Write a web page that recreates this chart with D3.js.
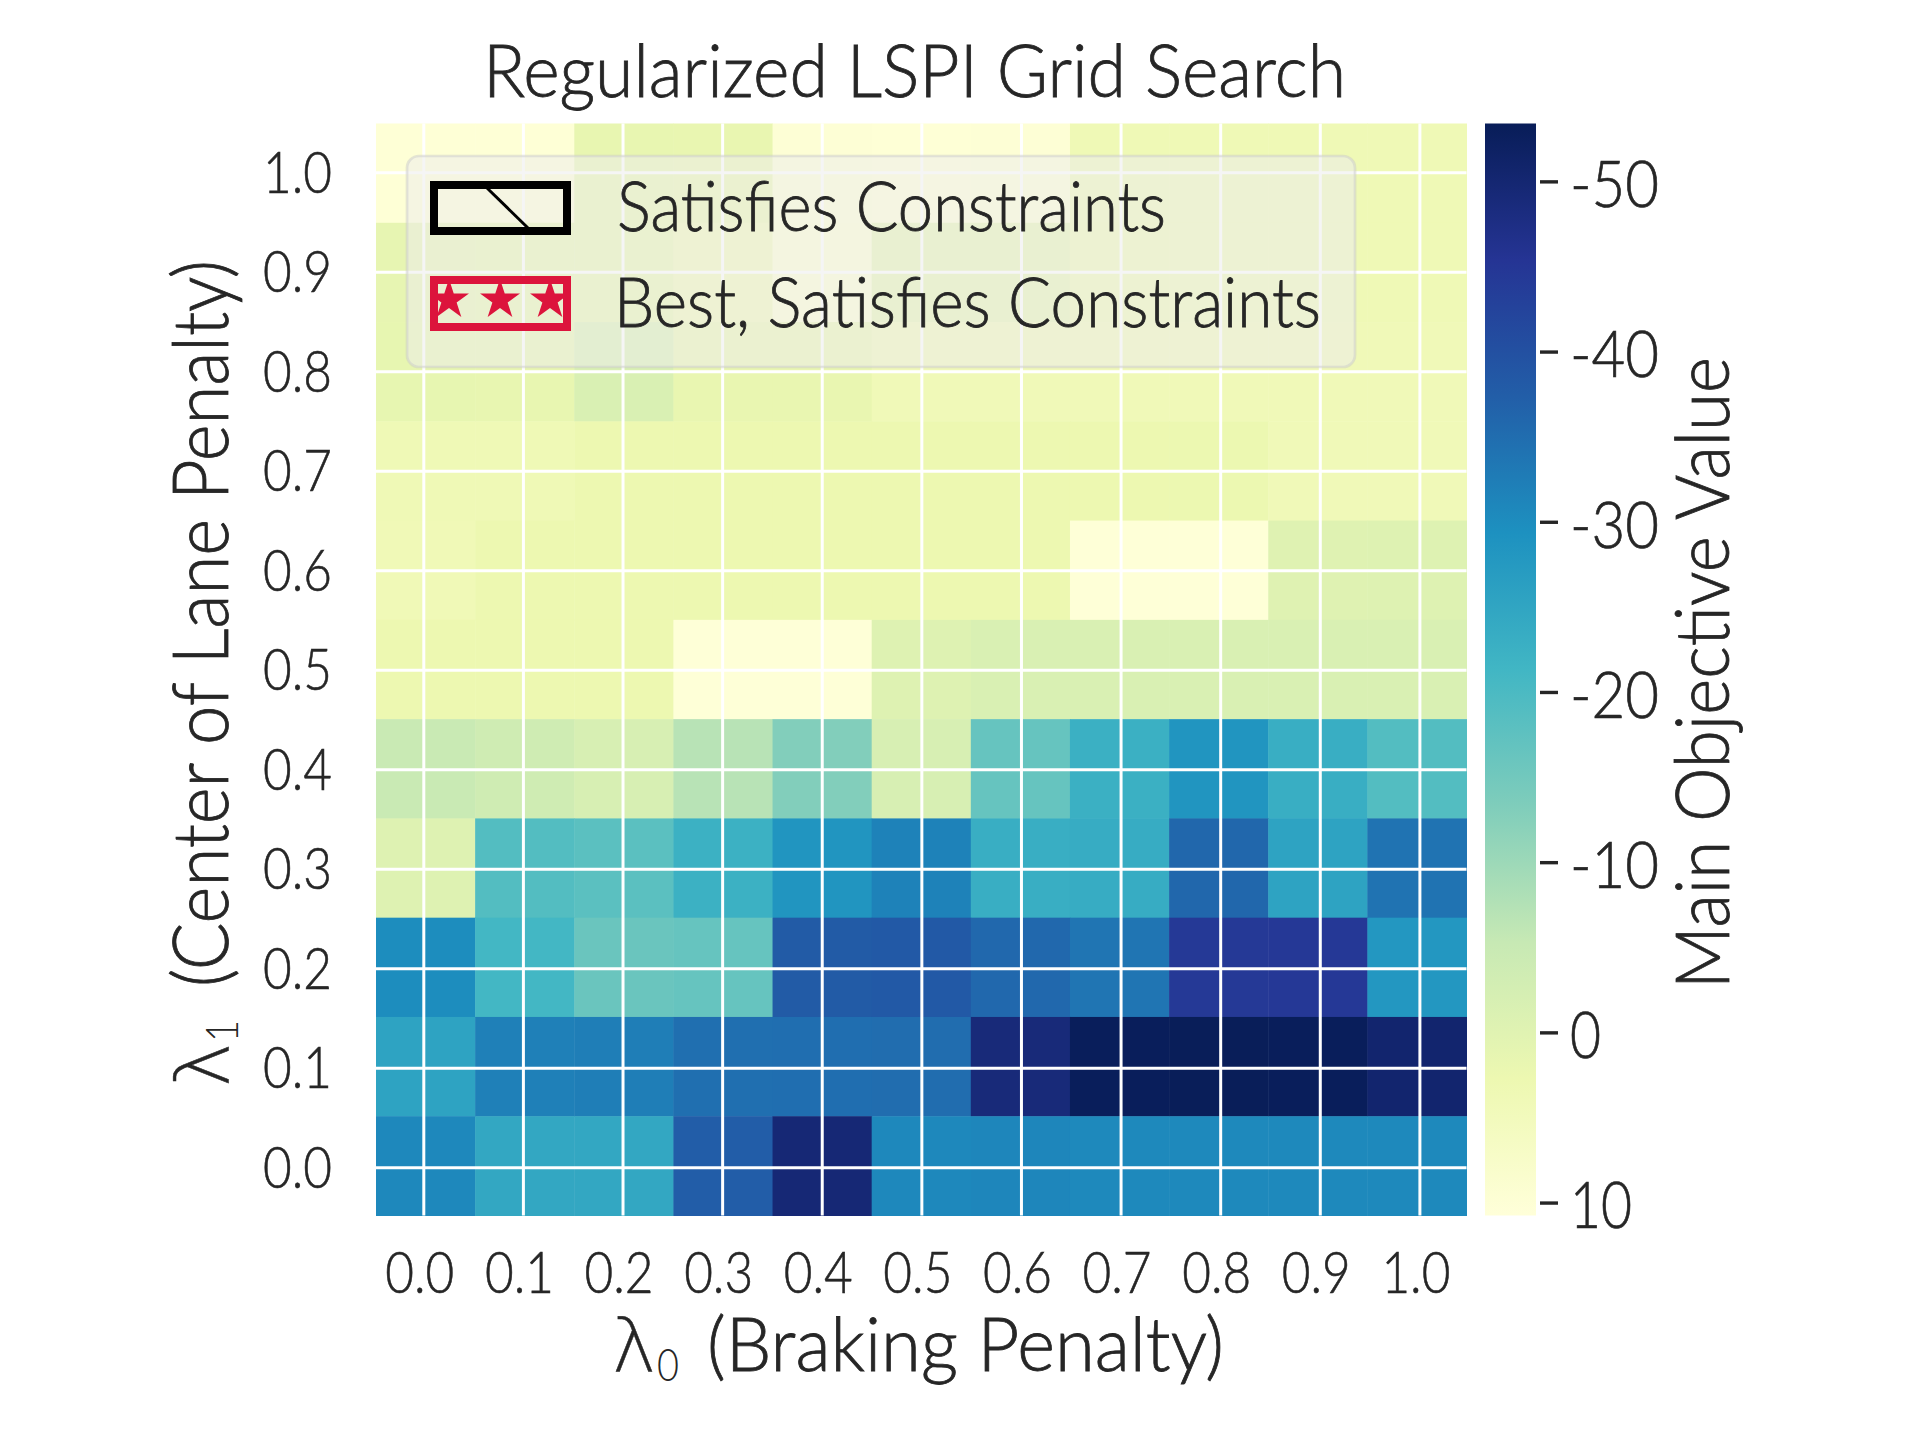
<!DOCTYPE html>
<html>
<head>
<meta charset="utf-8">
<script src="https://cdn.jsdelivr.net/npm/d3@7"></script>
<style>
  body { margin: 0; background: #fff; }
  text { font-family: "Lato", "Liberation Sans", sans-serif; font-weight: 300; fill: #262626; }
</style>
</head>
<body>
<div id="chart"></div>
<script>
// tick labels
const lambda0Ticks = [0.0, 0.1, 0.2, 0.3, 0.4, 0.5, 0.6, 0.7, 0.8, 0.9, 1.0];
const lambda1Ticks = [1.0, 0.9, 0.8, 0.7, 0.6, 0.5, 0.4, 0.3, 0.2, 0.1, 0.0];
const colorbarTicks = [-50, -40, -30, -20, -10, 0, 10];

// main objective value per row (lambda0 = 0.0 .. 1.0)
const row10 = [10.2, 10.2, 1.6, 1.8, 10, 10.2, 10, 3.8, 3.8, 3.8, 3.8];
const row09 = [1.4, 1.5, 1.5, 4, 9.5, 1.2, 1.2, 3.4, 3.8, 3.8, 3.8];
const row08 = [1.5, 1.6, -1.5, 1.8, 1.8, 4.2, 4.2, 4.2, 4.2, 4.2, 4.2];
const row07 = [3.8, 3.8, 2.7, 2.7, 2.7, 2.7, 2.7, 2.7, 2.5, 4.2, 4.2];
const row06 = [4, 2.7, 2.7, 2.7, 2.7, 2.7, 2.7, 10.3, 10.3, -0.3, -0.4];
const row05 = [2.7, 2.7, 2.7, 10.4, 10.4, -0.5, -1.5, -1.5, -1.5, -1.5, -1.5];
const row04 = [-4.8, -3.5, -2, -7, -13, -2, -16.5, -22.7, -28.5, -23, -19];
const row03 = [-0.5, -19, -18, -22.5, -28.5, -31.7, -23, -23.5, -36, -25.5, -34];
const row02 = [-30, -21, -16, -16.5, -38, -38.3, -35.8, -33.8, -44.5, -44.7, -28];
const row01 = [-25.5, -32, -32.3, -34.7, -34.8, -35, -49, -53, -53.2, -53, -50.5];
const row00 = [-30.8, -24.5, -24.5, -37.5, -49.5, -30.8, -31, -30.6, -30.6, -30.6, -30.6];
const rows = [row10, row09, row08, row07, row06, row05, row04, row03, row02, row01, row00];

// YlGnBu stops, light to dark
const ylGnBu = ["#ffffd9", "#edf8b1", "#c7e9b4", "#7fcdbb", "#41b6c4", "#1d91c0", "#225ea8", "#253494", "#081d58"];
const vmin = -53.4;
const vmax = 10.76;

const svg = d3.select("#chart").append("svg").attr("width", 1920).attr("height", 1440);

// Colour scale over the colourbar range
const color = d3.scaleLinear()
  .domain(ylGnBu.map((d, i) => vmax + (vmin - vmax) * i / (ylGnBu.length - 1)))
  .range(ylGnBu);

// Scales: the cells use bands, the grid and the ticks a slightly wider linear scale
const plot = { top: 123.5, bottom: 1215.5, left: 376, right: 1466.5 };
const xBand = d3.scaleBand().domain(d3.range(11)).range([plot.left, plot.right]);
const yBand = d3.scaleBand().domain(d3.range(11)).range([plot.top, plot.bottom]);
const xTick = d3.scaleLinear().domain([0, 1]).range([423.3, 1419.4]);
const yTick = d3.scaleLinear().domain([1, 0]).range([172.3, 1167.3]);

// Cells
svg.append("g").selectAll("g")
  .data(rows)
  .join("g")
  .selectAll("rect")
  .data((d, i) => d.map((v, j) => ({ v, i, j })))
  .join("rect")
  .attr("x", (d) => xBand(d.j))
  .attr("y", (d) => yBand(d.i))
  .attr("width", xBand.bandwidth() + 0.5)
  .attr("height", yBand.bandwidth() + 0.5)
  .attr("fill", (d) => color(d.v));

// Axes, tick lines are the white grid
const xAxis = svg.append("g")
  .attr("transform", `translate(0,${plot.bottom})`)
  .call(d3.axisBottom(xTick).tickValues(lambda0Ticks).tickFormat(d3.format(".1f"))
    .tickSize(-(plot.bottom - plot.top)).tickPadding(0));
const yAxis = svg.append("g")
  .attr("transform", `translate(${plot.left},0)`)
  .call(d3.axisLeft(yTick).tickValues(lambda1Ticks).tickFormat(d3.format(".1f"))
    .tickSize(-(plot.right - plot.left)).tickPadding(0));

[xAxis, yAxis].forEach((axis) => {
  axis.select(".domain").remove();
  axis.selectAll("line").attr("stroke", "#fff").attr("stroke-width", 3);
  axis.selectAll("text")
    .attr("font-size", 57)
    .attr("textLength", 69)
    .attr("lengthAdjust", "spacingAndGlyphs")
    .attr("stroke", "#262626")
    .attr("stroke-width", 0.6);
});
xAxis.selectAll("text").attr("x", -4).attr("y", 77).attr("dy", 0);
yAxis.selectAll("text").attr("x", -44).attr("dy", "0.35em");

// Colourbar
const grad = svg.append("defs").append("linearGradient")
  .attr("id", "cbar").attr("x1", 0).attr("x2", 0).attr("y1", 1).attr("y2", 0);
grad.selectAll("stop")
  .data(ylGnBu)
  .join("stop")
  .attr("offset", (d, i) => i / (ylGnBu.length - 1))
  .attr("stop-color", (d) => d);
svg.append("rect")
  .attr("x", 1485).attr("y", plot.top)
  .attr("width", 51).attr("height", plot.bottom - plot.top)
  .attr("fill", "url(#cbar)");

const cbarScale = d3.scaleLinear().domain([vmin, vmax]).range([plot.top, plot.bottom]);
const cbarAxis = svg.append("g")
  .attr("transform", "translate(1540,0)")
  .call(d3.axisRight(cbarScale).tickValues(colorbarTicks).tickFormat((d) => String(d))
    .tickSize(18).tickPadding(12));
cbarAxis.select(".domain").remove();
cbarAxis.selectAll("line").attr("stroke", "#262626").attr("stroke-width", 3.4);
cbarAxis.selectAll("text")
  .attr("font-size", 65)
  .attr("textLength", (d) => String(Math.abs(d)).length * 31 + (d < 0 ? 27 : 0))
  .attr("lengthAdjust", "spacingAndGlyphs")
  .attr("stroke", "#262626")
  .attr("stroke-width", 0.7)
  .attr("dy", "0.39em");

// Fitted text, the reference font is narrower than anything installed
function label(x, y, str, size, length, rotate) {
  const t = svg.append("text")
    .attr("transform", `translate(${x},${y})${rotate ? " rotate(-90)" : ""}`)
    .attr("font-size", size)
    .attr("stroke", "#262626")
    .attr("stroke-width", 0.8)
    .text(str);
  if (length) t.attr("textLength", length).attr("lengthAdjust", "spacingAndGlyphs");
  return t;
}
function lambda(t) {
  return t.style("font-family", "'DejaVu Sans', sans-serif").style("font-weight", 200)
    .attr("stroke-width", 0.5);
}

label(483, 97, "Regularized LSPI Grid Search", 72, 863);

// x label
lambda(label(612, 1371, "λ", 74, 44));
label(657, 1381, "0", 46, 22).attr("stroke-width", 0);
label(707, 1371, "(Braking Penalty)", 74, 517);

// y label
lambda(label(228, 1087, "λ", 74, 44, true));
label(238, 1042, "1", 46, 22, true).attr("stroke-width", 0);
label(228, 987, "(Center of Lane Penalty)", 76, 727, true);

// colourbar label
label(1729, 989, "Main Objective Value", 74, 632, true);

// Legend
svg.append("rect")
  .attr("x", 407).attr("y", 156)
  .attr("width", 948).attr("height", 211)
  .attr("rx", 12)
  .attr("fill", "#ececec").attr("fill-opacity", 0.53)
  .attr("stroke", "#ccc").attr("stroke-opacity", 0.5).attr("stroke-width", 2.7);

svg.append("rect")
  .attr("x", 434).attr("y", 185)
  .attr("width", 133).attr("height", 46)
  .attr("fill", "none").attr("stroke", "#000").attr("stroke-width", 8);
svg.append("line")
  .attr("x1", 487).attr("y1", 188).attr("x2", 528).attr("y2", 228)
  .attr("stroke", "#000").attr("stroke-width", 3);

svg.append("clipPath").attr("id", "starClip").append("rect")
  .attr("x", 438).attr("y", 284).attr("width", 125).attr("height", 39);
const starPositions = [449, 500, 550];
svg.append("g").attr("clip-path", "url(#starClip)")
  .selectAll("path")
  .data(starPositions)
  .join("path")
  .attr("transform", (d) => `translate(${d},300)`)
  .attr("d", d3.symbol(d3.symbolStar, 495))
  .attr("fill", "#dc143c");
svg.append("rect")
  .attr("x", 434).attr("y", 280)
  .attr("width", 133).attr("height", 47)
  .attr("fill", "none").attr("stroke", "#dc143c").attr("stroke-width", 8);

label(617, 231, "Satisfies Constraints", 68, 549);
label(614, 327, "Best, Satisfies Constraints", 68, 707);
</script>
</body>
</html>
